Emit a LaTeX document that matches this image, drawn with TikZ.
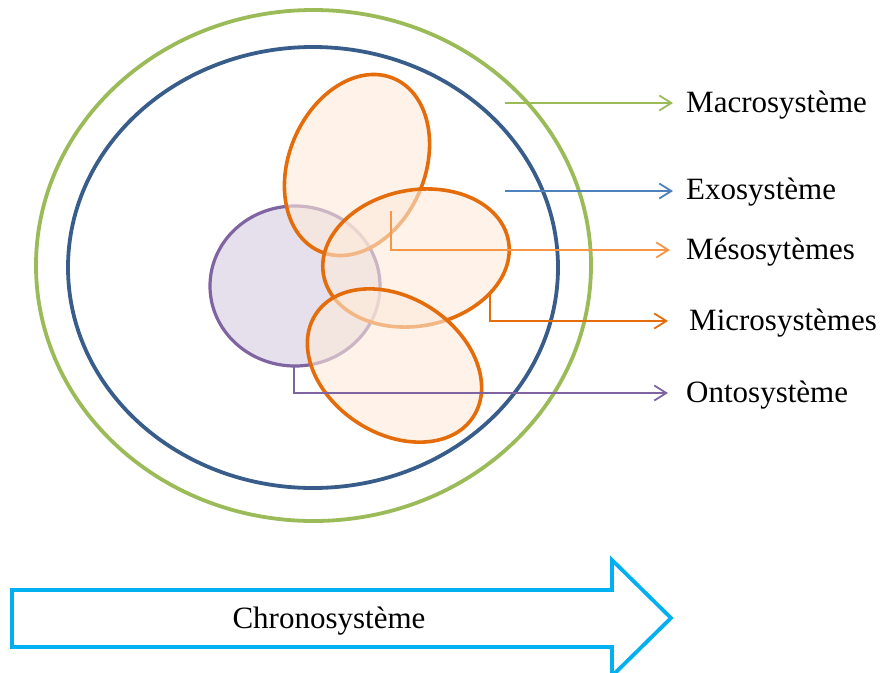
\documentclass[tikz,border=0pt]{standalone}
\usepackage{fontspec}
\setmainfont{Liberation Serif}
\usetikzlibrary{shapes.geometric,arrows.meta}
\definecolor{macroG}{HTML}{9BBB59}
\definecolor{exoB}{HTML}{385D8A}
\definecolor{exoArrow}{HTML}{4F81BD}
\definecolor{microO}{HTML}{E46C0A}
\definecolor{mesoO}{HTML}{F79646}
\definecolor{ontoP}{HTML}{8064A2}
\definecolor{ontoFill}{HTML}{E5E0EC}
\definecolor{orFill}{HTML}{FDEADA}
\definecolor{chronoC}{HTML}{00B0F0}
\tikzset{
  ring/.style={draw, ellipse, inner sep=0pt, outer sep=0pt, line width=3.8pt},
  microell/.style={draw=microO, ellipse, inner sep=0pt, outer sep=0pt, line width=3.6pt,
     fill=orFill, fill opacity=0.6, draw opacity=1, minimum width=188pt, minimum height=136pt},
  lbl/.style={anchor=west, inner sep=0pt, font=\fontsize{31}{35}\selectfont},
  pointer/.style={line width=1.8pt, -{Straight Barb[length=12pt,width=15pt]}},
}
\begin{document}
\begin{tikzpicture}[x=1pt,y=1pt]
\useasboundingbox (0,0) rectangle (880,-672);
% outer rings
\node[ring, draw=macroG, minimum width=555pt, minimum height=511pt] (macro) at (313.5,-265.5) {};
\node[ring, draw=exoB, minimum width=490pt, minimum height=441pt] (exo) at (313,-267.5) {};
% ontosystem
\node[draw=ontoP, fill=ontoFill, ellipse, inner sep=0pt, line width=3.2pt,
      minimum width=170pt, minimum height=160pt] (onto) at (295,-286) {};
% microsystems
\node[microell, rotate=67] (micA) at (357,-165) {};
\node[microell, rotate=10.7] (micB) at (416,-258) {};
\node[microell, rotate=-33] (micC) at (394.5,-365.5) {};
% labels
\node[lbl] (tMacro) at (686,-105) {Macrosystème};
\node[lbl] (tExo) at (686,-192) {Exosystème};
\node[lbl] (tMeso) at (686,-252) {Mésosytèmes};
\node[lbl] (tMicro) at (689,-323) {Microsystèmes};
\node[lbl] (tOnto) at (686,-395) {Ontosystème};
% connector start points
\coordinate (sMacro) at (505,-103);
\coordinate (sExo) at (505,-191);
\coordinate (sMeso) at (391,-211);
\coordinate (sMicro) at (490,-295);
\coordinate (sOnto) at (294,-367);
\draw[pointer, draw=macroG] (sMacro) -- (673,-103);
\draw[pointer, draw=exoArrow] (sExo) -- (673,-191);
\draw[pointer, draw=mesoO] (sMeso) |- (670,-250);
\draw[pointer, draw=microO] (sMicro) |- (668,-321);
\draw[pointer, draw=ontoP] (sOnto) |- (668,-393);
% chronosystem arrow
\draw[draw=chronoC, line width=3.8pt, line join=miter]
  (12,-590) -- (612,-590) -- (612,-560) -- (671,-618) -- (612,-676) -- (612,-647) -- (12,-647) -- cycle;
\node[font=\fontsize{31}{35}\selectfont, inner sep=0pt] (chrono) at (329,-621) {Chronosystème};
\end{tikzpicture}
\end{document}
